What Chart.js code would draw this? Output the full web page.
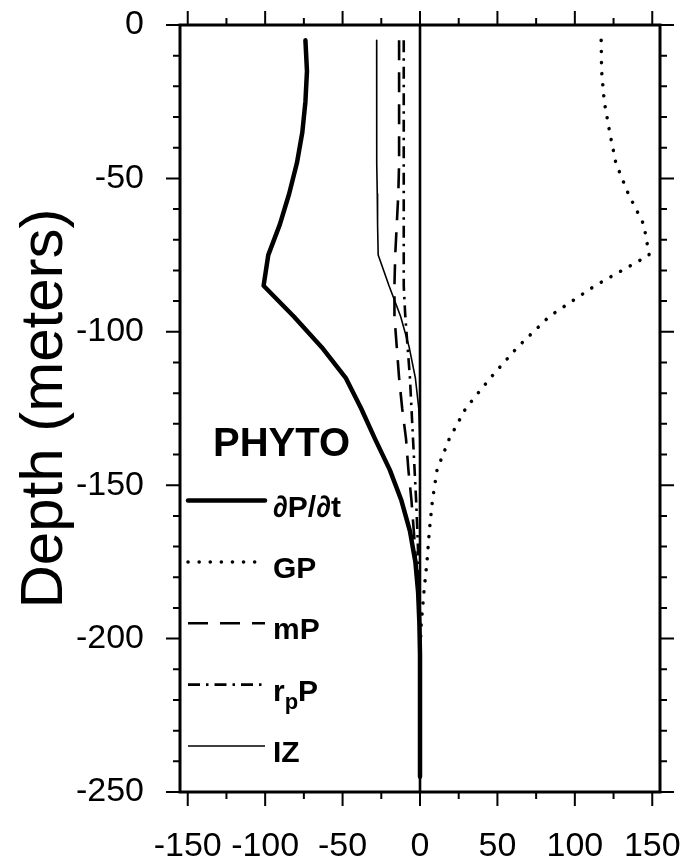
<!DOCTYPE html>
<html><head><meta charset="utf-8">
<script src="https://cdn.jsdelivr.net/npm/chart.js@4"></script>
<style>html,body{margin:0;padding:0;background:#fff}#wrap{width:689px;height:857px}</style>
</head><body><div id="wrap"><canvas id="c" width="689" height="857"></canvas></div>
<script>
// ---- data ----
const depth = [-5,-15,-25,-35,-45,-55,-65,-75,-85,-95,-105,-115,-125,-135,-145,-155,-165,-175,-185,-195,-205,-215,-225,-235,-245];
const dPdt  = [-74,-73,-74,-76,-79.5,-84.5,-90.5,-98,-101,-81.5,-63.5,-48,-38,-29,-19.5,-12,-6.5,-3,-1.2,-0.4,0,0,0,0,0];
const GP    = [117,117.3,119,122.5,126.5,134.5,144.5,148,113,83.5,63,45.5,29.5,18.8,11,8,6,4.5,2.5,0.8,0,0,0,0,0];
const mP    = [-13.5,-13.5,-13.5,-13.5,-13.5,-14,-15,-16,-16.5,-16.5,-15,-13.5,-11.5,-9,-7.5,-5.5,-4,-2.5,-1.2,-0.4,0,0,0,0,0];
const rpP   = [-10.5,-10.5,-10.5,-10.5,-10.5,-10.5,-10.5,-10.5,-10.5,-9.5,-8,-6.5,-5.5,-4.5,-3.5,-2.5,-1.7,-1,-0.5,-0.2,0,0,0,0,0];
const IZ    = [-28,-28,-28,-28,-27.8,-27.6,-27.4,-27,-20,-12.5,-7,-3,-0.8,-0.2,0,0,0,0,0,0,0,0,0,0,0];
const xTicks = [-150,-100,-50,0,50,100,150];
const yTicks = [0,-50,-100,-150,-200,-250];
const legendTitle = 'PHYTO';
const seriesNames = ['∂P/∂t','GP','mP','rpP','IZ'];

const FONT = "'Liberation Sans', Arial, Helvetica, sans-serif";
const styles = [
  {width:4.5, dash:[], cap:'round'},
  {width:3.5, dash:[0.1,11], cap:'round'},
  {width:2.6, dash:[20,12], cap:'butt'},
  {width:2.6, dash:[12,6,2.5,6], cap:'butt'},
  {width:1.6, dash:[], cap:'butt'}
];
const values = [dPdt, GP, mP, rpP, IZ];

const datasets = values.map((arr,i)=>({
  label: seriesNames[i],
  data: depth.map((d,j)=>({x:arr[j], y:d})),
  borderColor:'#000', backgroundColor:'#000',
  borderWidth: styles[i].width, borderDash: styles[i].dash,
  borderCapStyle: styles[i].cap, borderJoinStyle:'round',
  pointRadius:0, tension:0, fill:false
}));

const framePlugin = {
  id:'frame',
  beforeDatasetsDraw(chart){
    const {ctx, chartArea:{top,bottom}} = chart;
    const x0 = chart.scales.x.getPixelForValue(0);
    ctx.save(); ctx.strokeStyle='#000'; ctx.lineWidth=2.6;
    ctx.beginPath(); ctx.moveTo(x0,top); ctx.lineTo(x0,bottom); ctx.stroke();
    ctx.restore();
  },
  afterDatasetsDraw(chart){
    const {ctx, chartArea:{left,right,top,bottom}} = chart;
    const xs = chart.scales.x, ys = chart.scales.y;
    ctx.save(); ctx.strokeStyle='#000'; ctx.lineCap='butt';
    ctx.lineWidth=2;
    ctx.beginPath();
    for(let v=xTicks[0]; v<=xTicks[xTicks.length-1]; v+=25){
      const p = xs.getPixelForValue(v); const L = (v%50===0)?14:7;
      ctx.moveTo(p,top); ctx.lineTo(p,top-L);
      ctx.moveTo(p,bottom); ctx.lineTo(p,bottom+L);
    }
    for(let v=0; v>=-250; v-=10){
      const p = ys.getPixelForValue(v); const L = (v%50===0)?14:7;
      ctx.moveTo(left,p); ctx.lineTo(left-L,p);
      ctx.moveTo(right,p); ctx.lineTo(right+L,p);
    }
    ctx.stroke();
    ctx.lineWidth=3;
    ctx.strokeRect(left,top,right-left,bottom-top);
    ctx.restore();
  },
  afterDraw(chart){
    const {ctx, chartArea:{left}} = chart;
    const ys = chart.scales.y;
    ctx.save();
    ctx.fillStyle='#000';
    ctx.font = "bold 40px "+FONT;
    ctx.textBaseline='alphabetic';
    ctx.fillText(legendTitle, left+33, ys.getPixelForValue(-140.5));
    const rowDepths = [-155,-175,-195,-215,-235];
    const x1 = left+8, x2 = left+85;
    rowDepths.forEach((d,i)=>{
      const y = ys.getPixelForValue(d);
      ctx.strokeStyle='#000'; ctx.lineWidth = styles[i].width; ctx.setLineDash(styles[i].dash); ctx.lineCap = styles[i].cap;
      ctx.beginPath(); ctx.moveTo(x1,y); ctx.lineTo(x2,y); ctx.stroke();
      ctx.setLineDash([]);
      ctx.font = "bold 30px "+FONT;
      const tx = x2+8, ty = y+16;
      if(seriesNames[i]==='rpP'){
        ctx.fillText('r', tx, ty);
        let w = ctx.measureText('r').width;
        ctx.font = "bold 22px "+FONT;
        ctx.fillText('p', tx+w, ty+8);
        const w2 = ctx.measureText('p').width;
        ctx.font = "bold 30px "+FONT;
        ctx.fillText('P', tx+w+w2, ty);
      } else {
        ctx.fillText(seriesNames[i], tx, ty);
      }
    });
    ctx.restore();
  }
};

Chart.defaults.font.family = FONT;
Chart.defaults.color = '#000';
new Chart(document.getElementById('c'), {
  type:'line',
  data:{datasets},
  options:{
    responsive:false, animation:false, devicePixelRatio:1,
    layout:{padding:{top:25,right:29,left:0,bottom:0}},
    plugins:{legend:{display:false}, tooltip:{enabled:false}},
    scales:{
      x:{type:'linear', position:'bottom', min:-155, max:155,
         afterBuildTicks:s=>{s.ticks = xTicks.map(v=>({value:v}));},
         afterFit:s=>{s.height=65; s.paddingLeft=0; s.paddingRight=0;},
         grid:{display:false}, border:{display:false},
         ticks:{font:{size:34}, color:'#000', padding:26, maxRotation:0, autoSkip:false}},
      y:{type:'linear', min:-250, max:0,
         afterBuildTicks:s=>{s.ticks = yTicks.map(v=>({value:v}));},
         afterFit:s=>{s.width=180; s.paddingTop=0; s.paddingBottom=0;},
         grid:{display:false}, border:{display:false},
         ticks:{font:{size:34}, color:'#000', padding:28, autoSkip:false},
         title:{display:true, text:'Depth (meters)', font:{size:60}, color:'#000', padding:{top:9,bottom:0}}}
    }
  },
  plugins:[framePlugin]
});
</script></body></html>
